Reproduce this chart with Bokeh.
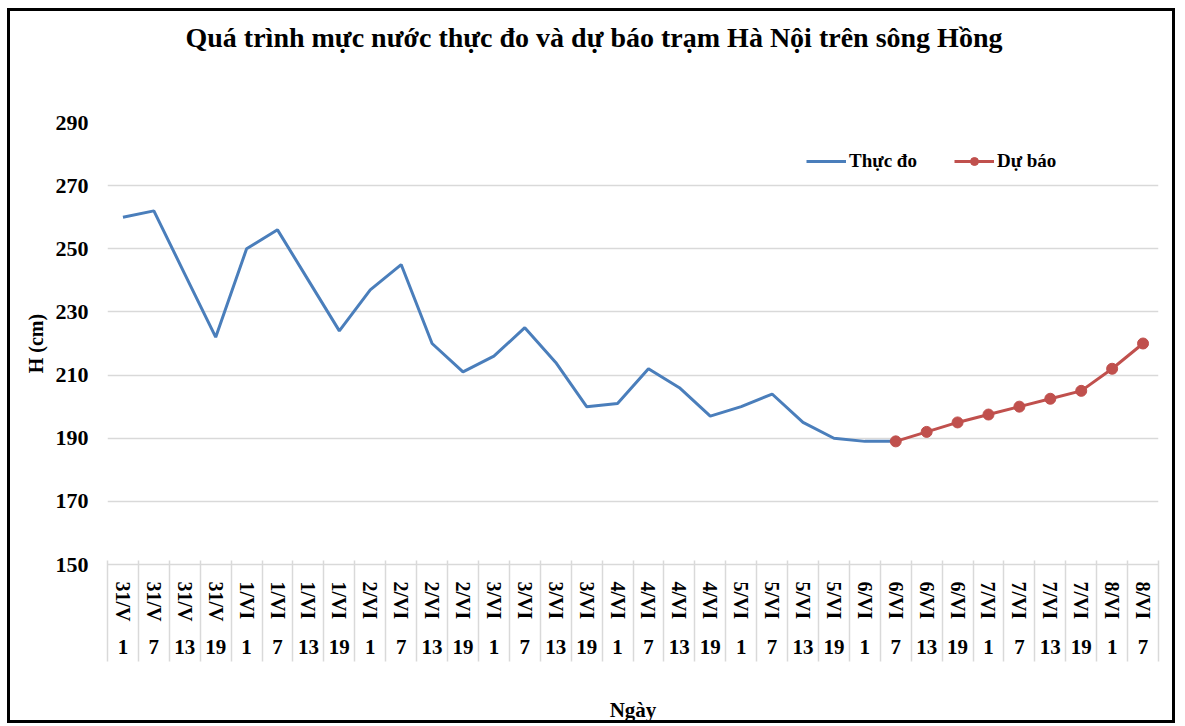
import math
from bokeh.plotting import figure
from bokeh.models import (FactorRange, Range1d, FixedTicker, CategoricalAxis,
                          LinearAxis, Legend, LegendItem, CustomJSTickFormatter)
from bokeh.embed import file_html
from bokeh.resources import INLINE

# ---- data ----
dates = ["31/V", "31/V", "31/V", "31/V",
         "1/VI", "1/VI", "1/VI", "1/VI",
         "2/VI", "2/VI", "2/VI", "2/VI",
         "3/VI", "3/VI", "3/VI", "3/VI",
         "4/VI", "4/VI", "4/VI", "4/VI",
         "5/VI", "5/VI", "5/VI", "5/VI",
         "6/VI", "6/VI", "6/VI", "6/VI",
         "7/VI", "7/VI", "7/VI", "7/VI",
         "8/VI", "8/VI"]
hours = ["1", "7", "13", "19"] * 8 + ["1", "7"]

observed = [260, 262, 242, 222, 250, 256, 240, 224, 237, 245, 220, 211,
            216, 225, 214, 200, 201, 212, 206, 197, 200, 204, 195, 190,
            189, 189]
forecast = [189, 192, 195, 197.5, 200, 202.5, 205, 212, 220]

y_ticks = [150, 170, 190, 210, 230, 250, 270, 290]

title_text = "Quá trình mực nước thực đo và dự báo trạm Hà Nội trên sông Hồng"

# ---- figure ----
keys = [f"{d} {h}" for d, h in zip(dates, hours)]
obs_x = keys[:len(observed)]
fc_x = keys[len(observed) - 1:]

FONT = "Liberation Serif"
GRID = "#d9d9d9"
BLUE = "#4a7ebb"
RED = "#c0504d"
INK = "black"

p = figure(width=1168, height=715,
           x_range=FactorRange(*keys), y_range=Range1d(150, 290),
           output_backend="svg", toolbar_location=None,
           min_border_left=97, min_border_right=20,
           min_border_top=111, min_border_bottom=162,
           outline_line_color=None)
p.styles = {"border": "3px solid black", "margin-left": "7px",
            "margin-top": "8px"}

p.title.text = title_text
p.title.align = "left"
p.title.text_font = FONT
p.title.text_font_style = "bold"
p.title.text_font_size = "28px"
p.title.text_color = INK
p.title.standoff = 14
p.title.offset = 78

p.xgrid.grid_line_color = None
p.ygrid.grid_line_color = GRID
p.ygrid.grid_line_width = 1.5

# y axis
yax = p.yaxis[0]
yax.ticker = FixedTicker(ticks=y_ticks)
yax.axis_line_color = None
yax.major_tick_line_color = None
yax.minor_tick_line_color = None
yax.major_label_standoff = 13
yax.major_label_text_font = FONT
yax.major_label_text_font_style = "bold"
yax.major_label_text_font_size = "22px"
yax.major_label_text_color = INK
yax.axis_label = "H (cm)"
yax.axis_label_text_font = FONT
yax.axis_label_text_font_style = "bold"
yax.axis_label_text_font_size = "20px"
yax.axis_label_text_color = INK
yax.axis_label_standoff = 6

# x axis A: dates (rotated) -- the figure's own bottom axis
xa = p.below[0]
xa.formatter = CustomJSTickFormatter(code="return tick.split(' ')[0]")
xa.major_label_orientation = -math.pi / 2
xa.axis_line_color = GRID
xa.axis_line_width = 1.5
xa.major_tick_line_color = None
xa.minor_tick_line_color = None
xa.major_label_standoff = 11
xa.major_label_text_font = FONT
xa.major_label_text_font_style = "bold"
xa.major_label_text_font_size = "20px"
xa.major_label_text_color = INK

# x axis B: hours
xb = CategoricalAxis(formatter=CustomJSTickFormatter(code="return tick.split(' ')[1]"))
xb.axis_line_color = None
xb.major_tick_line_color = None
xb.minor_tick_line_color = None
xb.major_label_standoff = 9
xb.major_label_text_font = FONT
xb.major_label_text_font_style = "bold"
xb.major_label_text_font_size = "21px"
xb.major_label_text_color = INK
p.add_layout(xb, "below")

# x axis C: column separators (category boundaries) + axis title
xc = LinearAxis(ticker=FixedTicker(ticks=list(range(len(keys) + 1))),
                formatter=CustomJSTickFormatter(code="return ''"))
xc.axis_line_color = None
xc.major_tick_in = 96
xc.major_tick_out = 5
xc.major_tick_line_color = GRID
xc.major_tick_line_width = 1.5
xc.minor_tick_line_color = None
xc.major_label_text_alpha = 0
xc.major_label_standoff = 0
xc.axis_label = "Ngày"
xc.axis_label_text_font = FONT
xc.axis_label_text_font_style = "bold"
xc.axis_label_text_font_size = "21px"
xc.axis_label_text_color = INK
xc.axis_label_standoff = 36
p.add_layout(xc, "below")

# invisible spacer between title and frame
spacer = LinearAxis(ticker=FixedTicker(ticks=[0]),
                    formatter=CustomJSTickFormatter(code="return ''"))
spacer.axis_line_color = None
spacer.major_tick_line_color = None
spacer.minor_tick_line_color = None
spacer.major_tick_in = 0
spacer.major_tick_out = 63
spacer.major_label_standoff = 0
spacer.major_label_text_font_size = "1px"
spacer.major_label_text_alpha = 0
p.add_layout(spacer, "above")

# series
r1 = p.line(obs_x, observed, line_color=BLUE, line_width=3)
r2 = p.line(fc_x, forecast, line_color=RED, line_width=3)
r3 = p.scatter(fc_x, forecast, size=11, fill_color=RED, line_color=RED)

legend = Legend(items=[LegendItem(label="Thực đo", renderers=[r1]),
                       LegendItem(label="Dự báo", renderers=[r2, r3])],
                orientation="horizontal", location=(699, 392),
                border_line_color=None, background_fill_alpha=0,
                padding=0, margin=0, spacing=37, glyph_width=40,
                label_standoff=3, label_text_font=FONT,
                label_text_font_style="bold", label_text_font_size="19px",
                label_text_color=INK)
p.add_layout(legend)

open("out.html", "w").write(file_html(p, INLINE))
